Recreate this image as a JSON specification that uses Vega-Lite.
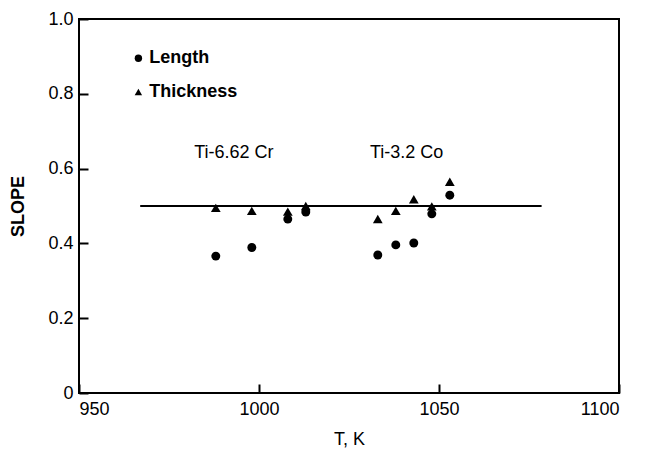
{
  "$schema": "https://vega.github.io/schema/vega-lite/v6.json",
  "width": 540,
  "height": 374,
  "autosize": {"type": "none"},
  "padding": {"left": 79, "top": 19, "right": 29, "bottom": 60},
  "background": "white",
  "config": {
    "view": {"stroke": "black", "strokeWidth": 2},
    "font": "Liberation Sans",
    "axis": {
      "grid": false,
      "domain": false,
      "tickColor": "black",
      "tickWidth": 2,
      "tickSize": -9,
      "labelColor": "black",
      "labelFontSize": 18,
      "labelFont": "Liberation Sans",
      "titleFont": "Liberation Sans",
      "titleFontSize": 18,
      "titleFontWeight": "bold",
      "titleColor": "black"
    }
  },
  "datasets": {
    "pts": [
      {"series": "Length", "T": 988, "slope": 0.366},
      {"series": "Length", "T": 998, "slope": 0.389},
      {"series": "Length", "T": 1008, "slope": 0.465},
      {"series": "Length", "T": 1013, "slope": 0.484},
      {"series": "Length", "T": 1033, "slope": 0.369},
      {"series": "Length", "T": 1038, "slope": 0.396},
      {"series": "Length", "T": 1043, "slope": 0.401},
      {"series": "Length", "T": 1048, "slope": 0.479},
      {"series": "Length", "T": 1053, "slope": 0.529},
      {"series": "Thickness", "T": 988, "slope": 0.495},
      {"series": "Thickness", "T": 998, "slope": 0.487},
      {"series": "Thickness", "T": 1008, "slope": 0.485},
      {"series": "Thickness", "T": 1013, "slope": 0.5},
      {"series": "Thickness", "T": 1033, "slope": 0.465},
      {"series": "Thickness", "T": 1038, "slope": 0.487},
      {"series": "Thickness", "T": 1043, "slope": 0.518},
      {"series": "Thickness", "T": 1048, "slope": 0.499},
      {"series": "Thickness", "T": 1053, "slope": 0.565}
    ],
    "fit": [{"T": 967, "T2": 1078.5, "slope": 0.5}],
    "legend": [
      {"series": "Length", "T": 966.5, "Ttext": 969.5, "slope": 0.895},
      {"series": "Thickness", "T": 966.5, "Ttext": 969.5, "slope": 0.805}
    ],
    "alloys": [
      {"label": "Ti-6.62 Cr", "T": 993, "slope": 0.642},
      {"label": "Ti-3.2 Co", "T": 1041, "slope": 0.642}
    ]
  },
  "layer": [
    {
      "data": {"name": "fit"},
      "mark": {"type": "rule", "color": "black", "strokeWidth": 2},
      "encoding": {
        "x": {"field": "T", "type": "quantitative", "scale": {"domain": [950, 1100], "nice": false, "zero": false},
          "axis": {"values": [950, 1000, 1050, 1100], "format": "d", "title": "T,  K", "titleFontWeight": "normal", "titlePadding": 12, "labelPadding": 16}},
        "x2": {"field": "T2"},
        "y": {"field": "slope", "type": "quantitative", "scale": {"domain": [0, 1], "nice": false},
          "axis": {"values": [0, 0.2, 0.4, 0.6, 0.8, 1.0], "title": "SLOPE", "titlePadding": 20, "labelPadding": 15,
            "labelExpr": "datum.value == 0 ? '0' : format(datum.value, '.1f')"}}
      }
    },
    {
      "data": {"name": "pts"},
      "mark": {"type": "point", "filled": true, "color": "black", "opacity": 1},
      "encoding": {
        "x": {"field": "T", "type": "quantitative"},
        "y": {"field": "slope", "type": "quantitative"},
        "shape": {"field": "series", "type": "nominal", "scale": {"domain": ["Length", "Thickness"], "range": ["circle", "triangle-up"]}, "legend": null},
        "size": {"field": "series", "type": "nominal", "scale": {"domain": ["Length", "Thickness"], "range": [80, 95]}, "legend": null}
      }
    },
    {
      "data": {"name": "legend"},
      "mark": {"type": "point", "filled": true, "color": "black", "opacity": 1},
      "encoding": {
        "x": {"field": "T", "type": "quantitative"},
        "y": {"field": "slope", "type": "quantitative"},
        "shape": {"field": "series", "type": "nominal"},
        "size": {"value": 55}
      }
    },
    {
      "data": {"name": "legend"},
      "mark": {"type": "text", "align": "left", "baseline": "middle", "fontSize": 18, "fontWeight": "bold", "color": "black"},
      "encoding": {
        "x": {"field": "Ttext", "type": "quantitative"},
        "y": {"field": "slope", "type": "quantitative"},
        "text": {"field": "series"}
      }
    },
    {
      "data": {"name": "alloys"},
      "mark": {"type": "text", "align": "center", "baseline": "middle", "fontSize": 18, "color": "black"},
      "encoding": {
        "x": {"field": "T", "type": "quantitative"},
        "y": {"field": "slope", "type": "quantitative"},
        "text": {"field": "label"}
      }
    }
  ]
}
